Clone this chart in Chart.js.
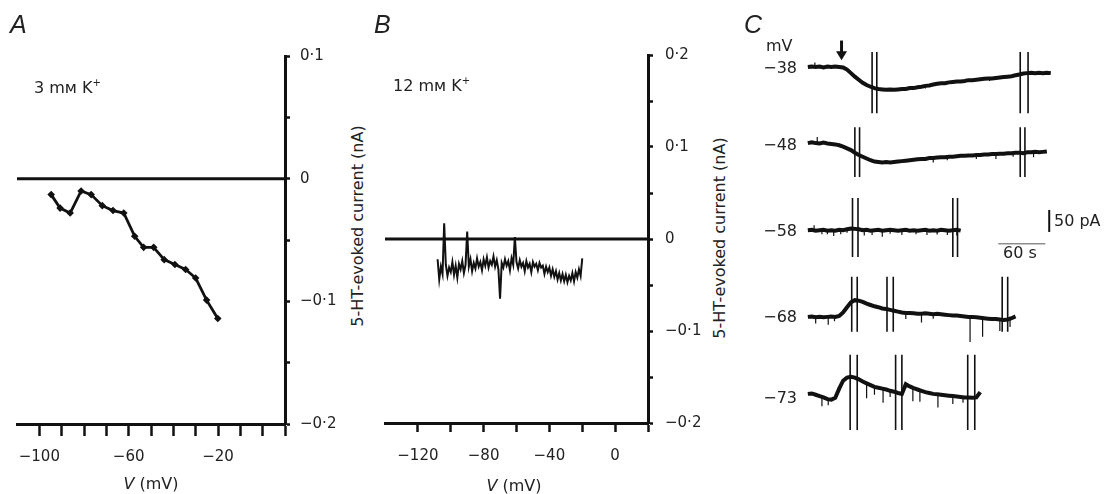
<!DOCTYPE html>
<html>
<head>
<meta charset="utf-8">
<script src="https://cdn.jsdelivr.net/npm/chart.js@4.4.1/dist/chart.umd.min.js"></script>
<style>
html,body{margin:0;padding:0;background:#fff;}
body{width:1108px;height:494px;position:relative;overflow:hidden;font-family:'DejaVu Sans',sans-serif;color:#222;}
canvas{position:absolute;top:0;}
.t{position:absolute;white-space:nowrap;line-height:1;transform:translateY(-50%);font-size:16px;}
.r{transform:translate(-100%,-50%);text-align:right;}
.c{transform:translate(-50%,-50%);}
.rot{transform:translate(-50%,-50%) rotate(-90deg);}
.let{font-family:'Liberation Sans',sans-serif;font-style:italic;font-size:25px;}
sup{font-size:10px;vertical-align:7px;line-height:0;}
</style>
</head>
<body>
<canvas id="chartA" width="340" height="494" style="left:0;width:340px;height:494px"></canvas>
<canvas id="chartB" width="340" height="494" style="left:370px;width:340px;height:494px"></canvas>
<canvas id="chartC" width="368" height="494" style="left:740px;width:368px;height:494px"></canvas>

<div class="t let" style="left:10px;top:24px">A</div>
<div class="t let" style="left:374px;top:24px">B</div>
<div class="t let" style="left:744px;top:24px">C</div>

<div class="t" style="left:34px;top:88px">3 mᴍ K<sup>+</sup></div>
<div class="t" style="left:393px;top:86px">12 mᴍ K<sup>+</sup></div>

<div class="t c" style="left:151px;top:484px"><i>V</i> (mV)</div>
<div class="t c" style="left:514px;top:486px"><i>V</i> (mV)</div>
<div class="t rot" style="left:358px;top:226px">5-HT-evoked current (nA)</div>
<div class="t rot" style="left:720px;top:238px">5-HT-evoked current (nA)</div>

<div class="t" style="left:766px;top:46px">mV</div>
<div class="t r" style="left:797px;top:68px">−38</div>
<div class="t r" style="left:797px;top:145px">−48</div>
<div class="t r" style="left:797px;top:231px">−58</div>
<div class="t r" style="left:797px;top:317px">−68</div>
<div class="t r" style="left:797px;top:398px">−73</div>
<div class="t" style="left:1054px;top:221px">50 pA</div>
<div class="t" style="left:1003px;top:253px">60 s</div>

<script>
// panel A : 3 mM K+, I-V points
const aVolt = [-94.7,-90.7,-86.2,-81.3,-76.8,-71.8,-67.0,-62.2,-57.3,-53.3,-48.8,-44.1,-39.3,-34.5,-30.0,-25.1,-20.1];
const aCurr = [-0.013,-0.024,-0.028,-0.010,-0.013,-0.022,-0.026,-0.028,-0.047,-0.056,-0.056,-0.066,-0.070,-0.074,-0.081,-0.099,-0.114];

// panel B : 12 mM K+, ramp trace (nA) from -108 to -20 mV, 1 mV apart
const bVolt = [-108,-107,-106,-105,-104,-103,-102,-101,-100,-99,-98,-97,-96,-95,-94,-93,-92,-91,-90,-89,-88,-87,-86,-85,-84,-83,-82,-81,-80,-79,-78,-77,-76,-75,-74,-73,-72,-71,-70,-69,-68,-67,-66,-65,-64,-63,-62,-61,-60,-59,-58,-57,-56,-55,-54,-53,-52,-51,-50,-49,-48,-47,-46,-45,-44,-43,-42,-41,-40,-39,-38,-37,-36,-35,-34,-33,-32,-31,-30,-29,-28,-27,-26,-25,-24,-23,-22,-21,-20];
const bCurr = [-0.022,-0.044,-0.030,-0.038,0.017,-0.028,-0.040,-0.031,-0.036,-0.025,-0.039,-0.029,-0.042,-0.027,-0.033,-0.024,-0.037,-0.028,0.008,-0.030,-0.022,-0.035,-0.026,-0.032,-0.021,-0.030,-0.025,-0.034,-0.022,-0.029,-0.020,-0.031,-0.024,-0.028,-0.019,-0.030,-0.023,-0.033,-0.065,-0.026,-0.031,-0.022,-0.029,-0.024,-0.034,-0.021,-0.028,0.002,-0.025,-0.032,-0.023,-0.030,-0.026,-0.035,-0.024,-0.031,-0.027,-0.036,-0.025,-0.030,-0.027,-0.034,-0.026,-0.031,-0.029,-0.038,-0.030,-0.036,-0.031,-0.040,-0.033,-0.041,-0.035,-0.044,-0.037,-0.045,-0.038,-0.046,-0.039,-0.047,-0.040,-0.045,-0.037,-0.046,-0.036,-0.042,-0.033,-0.040,-0.021];

// panel C : holding potentials and current traces (pA vs s), sampled every 5 s
const holdLabels = ['−38','−48','−58','−68','−73'];
const tSec = [0,5,10,15,20,25,30,35,40,45,50,55,60,65,70,75,80,85,90,95,100,105,110,115,120,125,130,135,140,145,150,155,160,165,170,175,180,185,190,195,200,205,210,215,220,225,230,235,240,245,250,255,260,265,270,275,280,285,290,295,300,305,310];
const tr38 = [0,1,0,1,-1,1,0,1,0,-1,-6,-14,-22,-29,-36,-41,-45,-48,-50,-51,-52,-51,-52,-51,-50,-50,-48,-48,-46,-45,-43,-42,-40,-38,-37,-37,-35,-34,-33,-33,-32,-30,-30,-29,-28,-27,-26,-26,-25,-24,-23,-22,-21,-19,-17,-15,-14,-13,-14,-13,-14,-13,-14];
const tr48 = [0,2,0,-1,1,-1,-2,-3,-5,-8,-12,-16,-22,-27,-31,-35,-39,-42,-43,-44,-43,-44,-43,-42,-41,-40,-39,-38,-37,-36,-36,-34,-34,-33,-32,-32,-31,-31,-30,-29,-29,-28,-28,-27,-27,-26,-26,-25,-25,-24,-24,-23,-23,-22,-22,-23,-21,-21,-20,-21,-20,-19];
const tr58 = [0,1,-1,0,1,-1,0,-1,1,0,2,4,3,2,0,1,-1,0,1,-1,0,1,0,-1,0,1,-1,0,-1,0,1,-1,0,-1,1,0,-1,0,1,-1];
const tr68 = [0,1,-1,0,-1,0,1,0,2,10,22,33,38,37,34,30,27,24,22,19,18,16,14,12,10,9,9,8,7,7,8,7,6,7,6,5,4,3,3,2,1,0,0,-1,-2,-3,-4,-5,-5,-6,-7,-6,-3,1];
const tr73 = [0,1,-2,-5,-8,-12,-13,-9,12,30,37,39,37,33,28,24,20,16,14,12,10,7,5,2,0,22,17,13,10,7,4,2,0,-1,-2,-3,-4,-5,-6,-7,-8,-8,-9,-8,4];
// fast events on each trace: [time s, size pA]
const blips38 = [[9,10],[150,-6],[232,-6]];
const blips48 = [[12,14],[160,-10],[178,-8],[215,-9],[240,-11],[262,-8],[288,-12]];
const blips58 = [[8,12],[18,-10],[25,-8],[33,-12],[42,-10],[50,-8],[72,-12],[82,-10],[95,-14],[105,-9],[120,-11],[138,-8],[152,-12],[165,-9],[178,-10],[190,-13]];
const blips68 = [[10,-14],[26,-18],[34,-10],[125,-14],[145,-20],[160,-10],[207,-57],[223,-42],[245,-26],[258,-20]];
const blips73 = [[18,-20],[26,-14],[75,-34],[85,-18],[96,-32],[105,-14],[134,-30],[143,-25],[166,-30],[185,-18],[198,-12]];
// voltage ramp artefacts (pairs of vertical lines), times in s
const ramps38 = [82,88,271,281];
const ramps48 = [60,66,271,277];
const ramps58 = [57,64,185,191];
const ramps68 = [56,63,101,109,248,255];
const ramps73 = [54,63,112,120,204,213];
const rampTop = [34,36,73,91,89];
const rampBottom = [-105,-77,-61,-34,-82];
const arrowTime = 43;
const barSeconds = 60, barPA = 50;

// layout: vertical offset of each trace in pA
const traceBase = [916,743,545,348,173];

const INK = '#111';
const tickFont = {family:'DejaVu Sans', size:15};

function fmt(v){
  if (v === 0) return '0';
  return (v < 0 ? '−' : '') + String(Math.abs(v)).replace('.', '·');
}
const fixW = w => s => { s.width = w; };
const fixH = h => s => { s.height = h; };

function ivChart(id, cfg){
  return new Chart(document.getElementById(id), {
    type:'line',
    data:{datasets:cfg.datasets},
    options:{
      responsive:false, animation:false,
      layout:{padding:cfg.padding},
      plugins:{legend:{display:false}, tooltip:{enabled:false}},
      scales:{
        x:{
          type:'linear', min:cfg.xMin, max:cfg.xMax, afterFit:fixH(cfg.xH),
          border:{display:true, color:INK, width:3},
          grid:{drawOnChartArea:false, drawTicks:true, tickLength:cfg.xTick, tickWidth:2.5,
                tickColor: c => (c.tick && c.tick.value === cfg.xMin) ? 'rgba(0,0,0,0)' : INK},
          ticks:{stepSize:cfg.xStep, autoSkip:false, maxRotation:0, padding:cfg.xPad, color:'#222', font:tickFont,
                 callback: v => cfg.xLabels.includes(v) ? fmt(v) : ''}
        },
        y:{
          type:'linear', position:'right', min:cfg.yMin, max:cfg.yMax, afterFit:fixW(cfg.yW),
          border:{display:true, color:INK, width:3},
          grid:{drawOnChartArea:false, drawTicks:true, tickLength:5, tickWidth:2.5, tickColor:INK},
          ticks:{stepSize:0.05, autoSkip:false, padding:cfg.yPad, color:'#222', font:tickFont,
                 callback: v => (Math.abs(Math.round(v*100)) % 10 === 0) ? fmt(Math.round(v*10)/10) : ''}
        }
      }
    }
  });
}

ivChart('chartA', {
  padding:{left:17, top:56, right:0, bottom:0},
  xMin:-110, xMax:10, xStep:10, xLabels:[-100,-60,-20], xH:70, xTick:12, xPad:12,
  yMin:-0.2, yMax:0.1, yW:55, yPad:10,
  datasets:[
    {data:[{x:-110,y:0},{x:10,y:0}], borderColor:INK, borderWidth:3, pointRadius:0},
    {data:aVolt.map((v,i)=>({x:v, y:aCurr[i]})), borderColor:INK, borderWidth:2.8,
     pointStyle:'rectRot', pointRadius:3.8, pointBackgroundColor:INK, pointBorderWidth:0}
  ]
});

ivChart('chartB', {
  padding:{left:9.5, top:55, right:0, bottom:0},
  xMin:-140, xMax:20, xStep:20, xLabels:[-120,-80,-40,0], xH:71, xTick:9, xPad:15,
  yMin:-0.2, yMax:0.2, yW:62, yPad:12,
  datasets:[
    {data:[{x:-140,y:0},{x:20,y:0}], borderColor:INK, borderWidth:3, pointRadius:0},
    {data:bVolt.map((v,i)=>({x:v, y:bCurr[i]})), borderColor:INK, borderWidth:2, pointRadius:0}
  ]
});

// panel C datasets
const traces = [tr38, tr48, tr58, tr68, tr73];
const blips = [blips38, blips48, blips58, blips68, blips73];
const ramps = [ramps38, ramps48, ramps58, ramps68, ramps73];
const cSets = [];
traces.forEach((tr, i) => {
  const base = traceBase[i];
  cSets.push({data:tr.map((v,k)=>({x:tSec[k], y:base+v})), borderColor:INK, borderWidth:4, pointRadius:0});
  const bl = [];
  blips[i].forEach(([t,d]) => {
    const lvl = base + tr[Math.min(tr.length-1, Math.round(t/5))];
    bl.push({x:t,y:lvl},{x:t,y:lvl+d},{x:t,y:null});
  });
  cSets.push({data:bl, borderColor:INK, borderWidth:1.2, pointRadius:0, spanGaps:false});
  const rp = [];
  ramps[i].forEach(t => { rp.push({x:t,y:base+rampTop[i]},{x:t,y:base+rampBottom[i]},{x:t,y:null}); });
  cSets.push({data:rp, borderColor:INK, borderWidth:1.6, pointRadius:0, spanGaps:false});
});
// scale bars
const barY = 514, barT = 243;
cSets.push({data:[{x:barT,y:barY},{x:barT+barSeconds,y:barY}], borderColor:'#555', borderWidth:1, pointRadius:0});
cSets.push({data:[{x:308,y:541},{x:308,y:541+barPA}], borderColor:INK, borderWidth:2, pointRadius:0});

const arrowPlugin = {
  id:'arrow',
  afterDraw(chart){
    const {ctx, scales:{x, y}} = chart;
    const px = x.getPixelForValue(arrowTime);
    const tip = y.getPixelForValue(traceBase[0] + 15);
    const top = y.getPixelForValue(traceBase[0] + 60);
    ctx.save();
    ctx.fillStyle = INK; ctx.strokeStyle = INK; ctx.lineWidth = 3;
    ctx.beginPath(); ctx.moveTo(px, top); ctx.lineTo(px, tip - 6); ctx.stroke();
    ctx.beginPath(); ctx.moveTo(px - 5.5, tip - 9); ctx.lineTo(px + 5.5, tip - 9); ctx.lineTo(px, tip); ctx.closePath(); ctx.fill();
    ctx.restore();
  }
};

new Chart(document.getElementById('chartC'), {
  type:'line',
  data:{datasets:cSets},
  plugins:[arrowPlugin],
  options:{
    responsive:false, animation:false,
    layout:{padding:{left:60, top:30, right:0, bottom:24}},
    plugins:{legend:{display:false}, tooltip:{enabled:false}},
    scales:{
      x:{type:'linear', display:false, min:-10, max:383},
      y:{type:'linear', display:false, min:0, max:1000}
    }
  }
});
</script>
</body>
</html>
